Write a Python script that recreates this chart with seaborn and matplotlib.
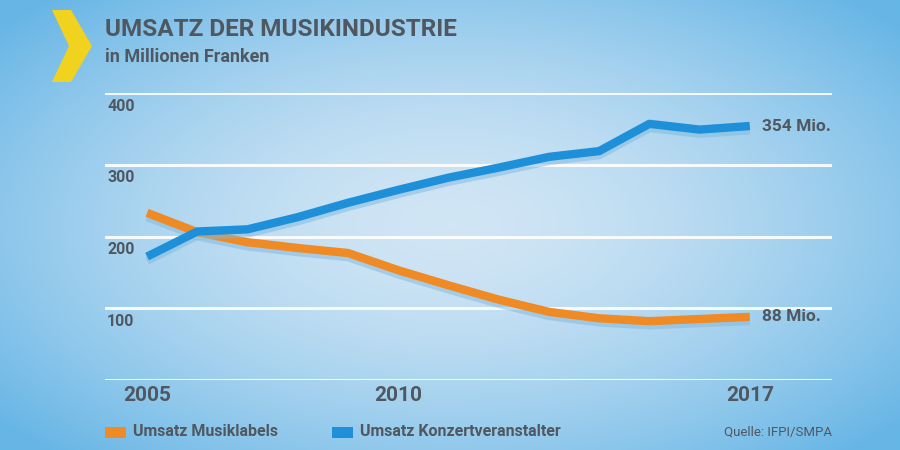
import numpy as np
import pandas as pd
import matplotlib.pyplot as plt
import matplotlib.patheffects as pe
from matplotlib.patches import Polygon, Rectangle
import seaborn as sns

# Umsatz in Millionen Franken
years = list(range(2005, 2018))
labels_rev = [233, 206, 192, 184, 177, 153, 132, 112, 95, 86, 82, 85, 88]
concert_rev = [172, 207, 210, 227, 247, 265, 282, 296, 311, 319, 357, 349, 354]
series_names = ["Umsatz Musiklabels", "Umsatz Konzertveranstalter"]
end_labels = ["88 Mio.", "354 Mio."]
y_ticks = [100, 200, 300, 400]
x_ticks = [2005, 2010, 2017]

df = pd.DataFrame({
    "Jahr": years * 2,
    "Umsatz": labels_rev + concert_rev,
    "Serie": [series_names[0]] * len(years) + [series_names[1]] * len(years),
})

orange = "#ef8a25"
blue = "#1e8fd9"
text_col = "#4f5861"
palette = {series_names[0]: orange, series_names[1]: blue}

sns.set_theme(style="white")
plt.rcParams["font.family"] = ["Roboto", "DejaVu Sans"]

fig = plt.figure(figsize=(9, 4.5), dpi=100)

# background gradient
bg = fig.add_axes([0, 0, 1, 1])
gx, gy = np.meshgrid(np.linspace(-1, 1, 300), np.linspace(-1, 1, 150))
r = np.sqrt((gx * 0.95) ** 2 + (gy * 0.9) ** 2)
c0 = np.array([0.82, 0.90, 0.96])
c1 = np.array([0.40, 0.71, 0.90])
t = np.clip(r / 1.25, 0, 1)[..., None] ** 1.6
img = c0 * (1 - t) + c1 * t
bg.imshow(img, aspect="auto", extent=[0, 1, 0, 1])
bg.set_axis_off()

# yellow chevron
pts = [(52, 10), (71, 10), (92, 46), (71, 82), (52, 82), (69, 46)]
chev = Polygon([(x / 900, 1 - y / 450) for x, y in pts], closed=True,
               facecolor="#f1d31f", edgecolor="none", transform=fig.transFigure)
fig.patches.append(chev)

fig.text(105 / 900, 1 - 29 / 450, "UMSATZ DER MUSIKINDUSTRIE", fontsize=17.5,
         fontweight="bold", color=text_col, va="center", ha="left")
fig.text(105 / 900, 1 - 57 / 450, "in Millionen Franken", fontsize=13,
         fontweight="bold", color=text_col, va="center", ha="left")

ax = fig.add_axes([105 / 900, 1 - 380 / 450, 727 / 900, 287 / 450])
ax.patch.set_alpha(0)
for s in ax.spines.values():
    s.set_visible(False)

for v in [0] + y_ticks:
    ax.axhline(v, color="white", lw=2.2, alpha=0.9, zorder=1)

sns.lineplot(data=df, x="Jahr", y="Umsatz", hue="Serie", palette=palette,
             lw=6, legend=False, ax=ax, zorder=3)
for line in ax.get_lines()[-2:]:
    line.set_solid_capstyle("butt")
    line.set_path_effects([pe.SimpleLineShadow(offset=(0, -3), shadow_color="#7fb8de",
                                               alpha=0.5), pe.Normal()])

ax.set_xlim(2005 - 42 / 50.1, 2017 + 82 / 50.1)
ax.set_ylim(0, 400)
ax.set_xticks(x_ticks)
ax.set_xticklabels([str(x) for x in x_ticks], fontsize=15, fontweight="bold",
                   color=text_col)
ax.tick_params(axis="x", length=0, pad=4)
ax.set_yticks([])
ax.set_xlabel("")
ax.set_ylabel("")

for v in y_ticks:
    ax.annotate(str(v), xy=(0, v), xycoords=("axes fraction", "data"),
                xytext=(1.5, -4), textcoords="offset points", va="top", ha="left",
                fontsize=11.5, fontweight="bold", color=text_col)

ends = [labels_rev[-1], concert_rev[-1]]
for lab, v in zip(end_labels, ends):
    ax.annotate(lab, xy=(years[-1], v), xytext=(9, 0), textcoords="offset points",
                va="center", ha="left", fontsize=12.5, fontweight="bold", color=text_col)

# legend
leg_items = [(105, series_names[0], orange), (332, series_names[1], blue)]
for x0, name, col in leg_items:
    fig.patches.append(Rectangle((x0 / 900, 1 - 438 / 450), 21 / 900, 11 / 450,
                                 transform=fig.transFigure, facecolor=col,
                                 edgecolor="none"))
    fig.text((x0 + 28) / 900, 1 - 432 / 450, name, fontsize=11.5, fontweight="bold",
             color=text_col, va="center", ha="left")
fig.text(832 / 900, 1 - 432 / 450, "Quelle: IFPI/SMPA", fontsize=9.5,
         color=text_col, va="center", ha="right")

fig.savefig("out.png", dpi=100)
